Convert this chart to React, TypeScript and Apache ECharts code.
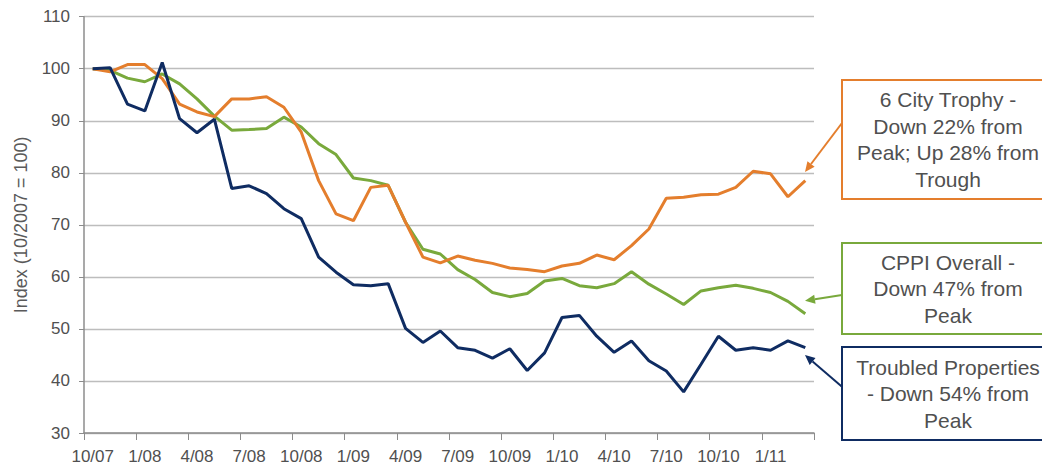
import React, { useEffect, useRef } from "react";
import * as echarts from "echarts";

const months: string[] = [
  "10/07", "11/07", "12/07", "1/08", "2/08", "3/08", "4/08", "5/08", "6/08", "7/08", "8/08", "9/08",
  "10/08", "11/08", "12/08", "1/09", "2/09", "3/09", "4/09", "5/09", "6/09", "7/09", "8/09", "9/09",
  "10/09", "11/09", "12/09", "1/10", "2/10", "3/10", "4/10", "5/10", "6/10", "7/10", "8/10", "9/10",
  "10/10", "11/10", "12/10", "1/11", "2/11", "3/11",
];

const trophy: number[] = [
  100, 99.4, 100.8, 100.8, 98.1, 93.2, 91.7, 90.8, 94.2, 94.2, 94.6, 92.6,
  87.8, 78.5, 72.1, 70.8, 77.2, 77.6, 70.5, 63.8, 62.7, 64.0, 63.2, 62.6,
  61.7, 61.4, 61.0, 62.1, 62.6, 64.2, 63.3, 66.0, 69.2, 75.1, 75.3, 75.8,
  75.9, 77.2, 80.3, 79.8, 75.4, 78.5,
];

const cppi: number[] = [
  100, 99.7, 98.2, 97.5, 99.0, 97.1, 94.2, 90.9, 88.2, 88.3, 88.5, 90.7,
  88.8, 85.6, 83.5, 79.0, 78.5, 77.6, 70.5, 65.3, 64.4, 61.4, 59.5, 57.0,
  56.2, 56.8, 59.2, 59.7, 58.3, 57.9, 58.7, 61.0, 58.6, 56.7, 54.7, 57.3,
  57.9, 58.4, 57.8, 57.0, 55.3, 52.9,
];

const troubled: number[] = [
  100, 100.2, 93.2, 91.9, 101.2, 90.4, 87.7, 90.3, 77.0, 77.5, 76.0, 73.1,
  71.2, 63.8, 60.9, 58.5, 58.3, 58.7, 50.1, 47.4, 49.6, 46.4, 45.9, 44.4,
  46.2, 42.0, 45.4, 52.2, 52.6, 48.6, 45.5, 47.7, 43.9, 41.9, 37.9, 43.2,
  48.6, 45.9, 46.4, 45.9, 47.7, 46.4,
];

const seriesNames = ["6 City Trophy", "CPPI Overall", "Troubled Properties"];
const yTicks = { min: 30, max: 110, interval: 10 };
const yAxisTitle = "Index (10/2007 = 100)";

const ORANGE = "#E47E2D";
const GREEN = "#79A93C";
const NAVY = "#0F2C62";
const TEXT = "#505050";
const FONT = "'Liberation Sans', Arial, sans-serif";

const annotations = [
  { text: "6 City Trophy -\nDown 22% from\nPeak; Up 28% from\nTrough", color: ORANGE, y0: 80, y1: 199, from: [842, 123], to: [805, 172] },
  { text: "CPPI Overall -\nDown 47% from\nPeak", color: GREEN, y0: 243, y1: 334, from: [842, 295], to: [805, 300.7] },
  { text: "Troubled Properties\n- Down 54% from\nPeak", color: NAVY, y0: 347, y1: 440, from: [842, 386.7], to: [805, 355] },
];

function arrow(from: number[], to: number[], color: string) {
  const dx = to[0] - from[0];
  const dy = to[1] - from[1];
  const len = Math.sqrt(dx * dx + dy * dy);
  const ux = dx / len;
  const uy = dy / len;
  const hl = 10;
  const hw = 4.5;
  const bx = to[0] - ux * hl;
  const by = to[1] - uy * hl;
  const px = -uy;
  const py = ux;
  return [
    {
      type: "line",
      shape: { x1: from[0], y1: from[1], x2: bx, y2: by },
      style: { stroke: color, lineWidth: 2 },
    },
    {
      type: "polygon",
      shape: {
        points: [
          [to[0], to[1]],
          [bx + px * hw, by + py * hw],
          [bx - px * hw, by - py * hw],
        ],
      },
      style: { fill: color },
    },
  ];
}

export default function App() {
  const ref = useRef<HTMLDivElement>(null);

  useEffect(() => {
    if (!ref.current) return;
    const chart = echarts.init(ref.current, undefined, { renderer: "svg" });

    const graphics: any[] = [];
    annotations.forEach((a) => {
      graphics.push({
        type: "rect",
        shape: { x: 842, y: a.y0, width: 212, height: a.y1 - a.y0 },
        style: { fill: "#fff", stroke: a.color, lineWidth: 2 },
      });
      graphics.push({
        type: "text",
        x: 948,
        y: (a.y0 + a.y1) / 2,
        style: {
          text: a.text,
          fill: TEXT,
          font: `21px ${FONT}`,
          fontSize: 21,
          fontFamily: FONT,
          align: "center",
          verticalAlign: "middle",
          lineHeight: 26.5,
        },
      });
      graphics.push(...arrow(a.from, a.to, a.color));
    });

    chart.setOption({
      animation: false,
      backgroundColor: "#fff",
      grid: { left: 84, right: 228, top: 16.7, bottom: 35, containLabel: false },
      xAxis: {
        type: "category",
        data: months,
        boundaryGap: true,
        axisLine: { lineStyle: { color: "#8C8C8C", width: 1.5 } },
        axisTick: { show: true, interval: 2, length: 7, lineStyle: { color: "#8C8C8C" } },
        axisLabel: {
          interval: 2,
          color: TEXT,
          fontSize: 17,
          fontFamily: FONT,
          margin: 15,
        },
        splitLine: { show: false },
      },
      yAxis: {
        type: "value",
        min: yTicks.min,
        max: yTicks.max,
        interval: yTicks.interval,
        name: yAxisTitle,
        nameLocation: "middle",
        nameGap: 54,
        nameRotate: 90,
        nameTextStyle: { color: "#5A5A5A", fontSize: 18, fontFamily: FONT },
        axisLine: { show: true, lineStyle: { color: "#8C8C8C", width: 1.5 } },
        axisTick: { show: true, length: 5, lineStyle: { color: "#8C8C8C" } },
        axisLabel: { color: TEXT, fontSize: 17, fontFamily: FONT, margin: 14 },
        splitLine: { show: true, lineStyle: { color: "#BDBDBD", width: 1.3 } },
      },
      series: [
        { name: seriesNames[0], type: "line", data: trophy, symbol: "none", lineStyle: { color: ORANGE, width: 3 }, itemStyle: { color: ORANGE }, z: 3 },
        { name: seriesNames[1], type: "line", data: cppi, symbol: "none", lineStyle: { color: GREEN, width: 3 }, itemStyle: { color: GREEN }, z: 2 },
        { name: seriesNames[2], type: "line", data: troubled, symbol: "none", lineStyle: { color: NAVY, width: 3 }, itemStyle: { color: NAVY }, z: 4 },
      ],
      graphic: graphics,
    });

    return () => {
      chart.dispose();
    };
  }, []);

  return (
    <div
      ref={ref}
      style={{ position: "fixed", left: 0, top: 0, width: 1042, height: 468, background: "#fff" }}
    />
  );
}
